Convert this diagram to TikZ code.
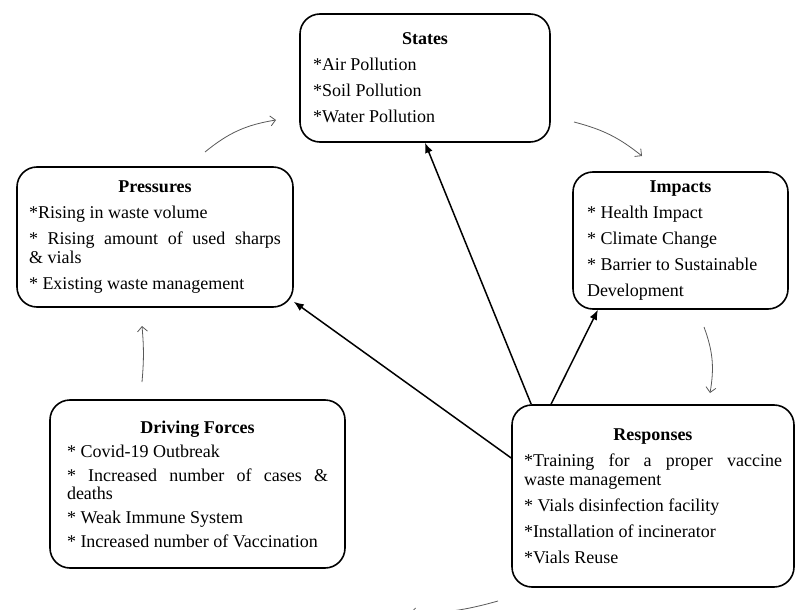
\documentclass[tikz,border=0pt]{standalone}
\usepackage{fontspec}
\setmainfont{Liberation Serif}
\usepackage{tikz}
\usetikzlibrary{arrows.meta}
\tolerance=10000
\hbadness=10000

\newcommand{\boxhead}[1]{\makebox[\linewidth]{\textbf{#1}}}

\begin{document}
\begin{tikzpicture}[x=1pt, y=-1pt,
    dpsir/.style={draw, line width=1.6pt, rounded corners=20pt, align=justify,
        inner sep=0pt, font=\fontsize{18}{19}\selectfont},
    resparrow/.style={-{Latex[length=10pt,width=8pt]}, line width=1.5pt},
    cyclearrow/.style={-{Straight Barb[length=5pt,width=10pt]}, gray!70!black, line width=0.8pt}]
    \useasboundingbox (0,0) rectangle (796,610);

    \node[dpsir, minimum width=250pt, minimum height=128pt, text width=224pt] (states) at (425,78)
        {\boxhead{States}\\[7pt]*Air Pollution\\[7pt]*Soil Pollution\\[7pt]*Water Pollution};
    \node[dpsir, minimum width=276pt, minimum height=140pt, text width=252pt] (press) at (155,237)
        {\boxhead{Pressures}\\[7pt]*Rising in waste volume\\[7pt]* Rising amount of used sharps\linebreak \& vials\\[7pt]* Existing waste management};
    \node[dpsir, minimum width=215pt, minimum height=137pt, text width=187pt] (imp) at (680.5,240.5)
        {\boxhead{Impacts}\\[7pt]* Health Impact\\[7pt]* Climate Change\\[7pt]* Barrier to Sustainable\\[7pt]Development};
    \node[dpsir, minimum width=295pt, minimum height=168pt, text width=261pt,
        font=\fontsize{18}{18}\selectfont] (drive) at (197.5,484)
        {\boxhead{Driving Forces}\\[6pt]* Covid-19 Outbreak\\[6pt]* Increased number of cases \&\linebreak deaths\\[6pt]* Weak Immune System\\[6pt]* Increased number of Vaccination};
    \node[dpsir, minimum width=282pt, minimum height=182pt, text width=258pt] (resp) at (653,496)
        {\boxhead{Responses}\\[7pt]*Training for a proper vaccine\linebreak waste management\\[7pt]* Vials disinfection facility\\[7pt]*Installation of incinerator\\[7pt]*Vials Reuse};

    % responses act on the other boxes
    \draw[resparrow] (resp.165) -- (press.-25);
    \draw[resparrow] (resp.143) -- (states.south);
    \draw[resparrow] (resp.138) -- (imp.220);

    % cycle
    \coordinate (pa) at (205,152);  \coordinate (pb) at (276,120);
    \coordinate (sa) at (574,122);  \coordinate (sb) at (642,156);
    \coordinate (ia) at (704,327);  \coordinate (ib) at (710,393);
    \coordinate (ra) at (498,601);  \coordinate (rb) at (410,613);
    \coordinate (da) at (142,382);  \coordinate (db) at (142,326);
    \draw[cyclearrow] (pa) to[bend left=15] (pb);
    \draw[cyclearrow] (sa) to[bend left=12] (sb);
    \draw[cyclearrow] (ia) to[bend left=15] (ib);
    \draw[cyclearrow] (ra) to[bend left=8] (rb);
    \draw[cyclearrow] (da) to[bend right=5] (db);
\end{tikzpicture}
\end{document}
